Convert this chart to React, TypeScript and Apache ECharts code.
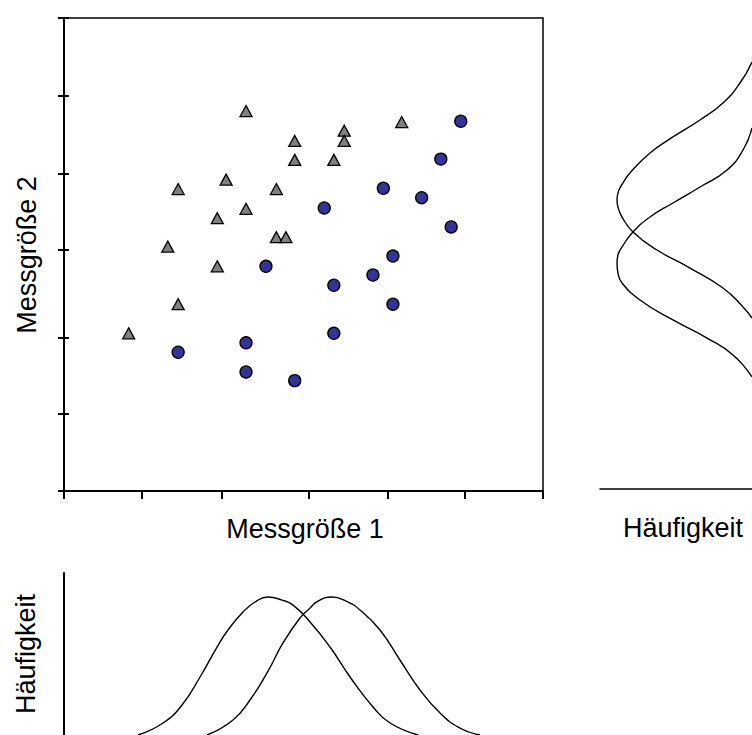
import React, { useEffect, useRef } from "react";
import * as echarts from "echarts";

const FONT = '"Liberation Sans", Arial, Helvetica, sans-serif';

// Gruppe 1 (Dreiecke): [Messgröße 1, Messgröße 2]
const gruppeDreieck: [number, number][] = [
  [8.1, 20.0], [13.0, 31.0], [14.3, 38.3], [14.3, 23.7], [19.2, 34.6],
  [19.2, 28.5], [20.3, 39.5], [22.8, 48.2], [22.8, 35.8], [26.6, 38.3],
  [26.6, 32.2], [27.8, 32.2], [28.9, 44.4], [28.9, 42.0], [33.8, 42.0],
  [35.1, 45.7], [35.1, 44.4], [42.3, 46.8],
];

// Gruppe 2 (Kreise): [Messgröße 1, Messgröße 2]
const gruppeKreis: [number, number][] = [
  [49.7, 46.9], [47.2, 42.1], [40.0, 38.4], [44.8, 37.2], [32.6, 35.9],
  [48.5, 33.5], [41.2, 29.8], [25.3, 28.5], [38.7, 27.4], [33.8, 26.1],
  [41.2, 23.7], [33.8, 20.0], [14.3, 17.6], [22.8, 18.8], [22.8, 15.1],
  [28.9, 14.0],
];

// Tick positions on both measurement axes
const xTicks = [0, 9.8, 19.7, 30.6, 40.5, 50.2, 60];
const yTicks = [0, 9.8, 19.5, 30.6, 40.3, 50.1, 60];

// Häufigkeit entlang Messgröße 1: [Messgröße 1, Häufigkeit]
const verteilungX1: [number, number][] = [
  [9.27, 0.0], [12.4, 0.074], [14.78, 0.185], [17.04, 0.358], [19.17, 0.543],
  [20.54, 0.648], [22.42, 0.759], [23.93, 0.821], [25.55, 0.852], [27.31, 0.833],
  [28.69, 0.802], [30.82, 0.698], [33.32, 0.543], [35.83, 0.358], [38.71, 0.173],
  [40.84, 0.074], [44.37, 0.0],
];
const verteilungX2: [number, number][] = [
  [17.91, 0.0], [21.17, 0.093], [23.3, 0.216], [25.43, 0.383], [27.43, 0.568],
  [29.56, 0.722], [30.82, 0.784], [31.82, 0.827], [33.57, 0.852], [35.32, 0.827],
  [37.07, 0.772], [39.58, 0.648], [42.08, 0.463], [44.59, 0.278], [47.1, 0.136],
  [49.6, 0.043], [52.11, 0.0],
];

// Häufigkeit entlang Messgröße 2: [Häufigkeit, Messgröße 2]
const verteilungY1: [number, number][] = [
  [0.0, 54.17], [0.079, 51.5], [0.191, 48.97], [0.342, 46.81], [0.52, 44.66],
  [0.671, 42.62], [0.803, 40.09], [0.849, 38.82], [0.882, 37.55], [0.888, 36.66],
  [0.882, 35.77], [0.855, 34.5], [0.783, 32.6], [0.625, 30.32], [0.408, 28.03],
  [0.191, 25.5], [0.059, 23.09], [0.0, 21.69],
];
const verteilungY2: [number, number][] = [
  [0.0, 45.79], [0.059, 43.0], [0.164, 40.47], [0.342, 38.31], [0.52, 36.28],
  [0.671, 34.5], [0.783, 32.6], [0.855, 30.7], [0.882, 29.68], [0.888, 28.67],
  [0.882, 27.4], [0.855, 26.13], [0.737, 23.98], [0.52, 21.44], [0.296, 19.15],
  [0.125, 17.0], [0.0, 14.21],
];

const black = "#000000";

const curve = (data: [number, number][], xi: number, yi: number) => ({
  type: "line",
  xAxisIndex: xi,
  yAxisIndex: yi,
  data,
  smooth: 0.5,
  symbol: "none",
  lineStyle: { color: black, width: 1.4 },
  silent: true,
});

const label = (text: string, x: number, y: number, rotation = 0) => ({
  type: "text",
  x,
  y,
  rotation,
  style: {
    text,
    font: `27px ${FONT}`,
    fontSize: 27,
    fontFamily: FONT,
    fill: black,
    align: "center",
    verticalAlign: "middle",
    textAlign: "center",
    textVerticalAlign: "middle",
  },
});

export default function App() {
  const ref = useRef<HTMLDivElement>(null);

  useEffect(() => {
    if (!ref.current) return;
    const chart = echarts.init(ref.current, undefined, { renderer: "svg" });
    const hidden = { show: false };
    chart.setOption({
      animation: false,
      backgroundColor: "#ffffff",
      grid: [
        {
          left: 64, top: 18, width: 479, height: 473,
          show: true, borderColor: black, borderWidth: 1.5,
          backgroundColor: "transparent",
        },
        { left: 64, top: 573, width: 479, height: 162 },
        { left: 600, top: 16, width: 152, height: 473 },
      ],
      xAxis: [
        {
          gridIndex: 0, type: "value", min: 0, max: 60,
          axisLine: { lineStyle: { color: black, width: 2 } },
          axisTick: { show: true, length: 8, customValues: xTicks, lineStyle: { color: black, width: 2 } },
          axisLabel: hidden, splitLine: hidden,
        },
        { gridIndex: 1, type: "value", min: 0, max: 60, show: false },
        {
          gridIndex: 2, type: "value", min: 0, max: 1, inverse: true,
          axisLine: { show: true, lineStyle: { color: black, width: 1.5 } },
          axisTick: hidden, axisLabel: hidden, splitLine: hidden,
        },
      ],
      yAxis: [
        {
          gridIndex: 0, type: "value", min: 0, max: 60,
          axisLine: { show: true, lineStyle: { color: black, width: 2 } },
          axisTick: { show: true, length: 6, customValues: yTicks, lineStyle: { color: black, width: 2 } },
          axisLabel: hidden, splitLine: hidden,
        },
        {
          gridIndex: 0, type: "value", min: 0, max: 60, position: "left",
          axisLine: hidden,
          axisTick: { show: true, inside: true, length: 5, customValues: yTicks, lineStyle: { color: black, width: 2 } },
          axisLabel: hidden, splitLine: hidden,
        },
        {
          gridIndex: 1, type: "value", min: 0, max: 1,
          axisLine: { show: true, lineStyle: { color: black, width: 2 } },
          axisTick: hidden, axisLabel: hidden, splitLine: hidden,
        },
        { gridIndex: 2, type: "value", min: 0, max: 60, show: false },
      ],
      series: [
        {
          type: "scatter",
          xAxisIndex: 0, yAxisIndex: 0,
          data: gruppeDreieck,
          symbol: "triangle",
          symbolSize: [12, 11],
          itemStyle: { color: "#808080", borderColor: black, borderWidth: 1.3, opacity: 1 },
        },
        {
          type: "scatter",
          xAxisIndex: 0, yAxisIndex: 0,
          data: gruppeKreis,
          symbol: "circle",
          symbolSize: 12,
          itemStyle: { color: "#333399", borderColor: black, borderWidth: 1.3, opacity: 1 },
        },
        curve(verteilungX1, 1, 2),
        curve(verteilungX2, 1, 2),
        curve(verteilungY1, 2, 3),
        curve(verteilungY2, 2, 3),
      ],
      graphic: [
        label("Messgröße 1", 305, 529),
        label("Häufigkeit", 683, 528),
        label("Messgröße 2", 27, 255, Math.PI / 2),
        label("Häufigkeit", 26, 654, Math.PI / 2),
      ],
    });
    return () => chart.dispose();
  }, []);

  return (
    <div
      ref={ref}
      style={{ position: "fixed", left: 0, top: 0, width: 752, height: 735 }}
    />
  );
}
